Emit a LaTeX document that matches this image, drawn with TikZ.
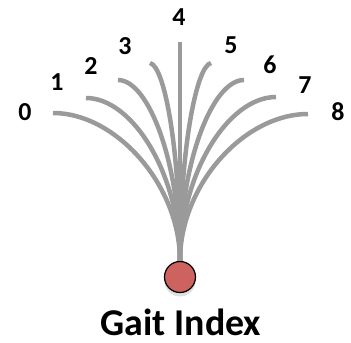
\documentclass[tikz,border=0pt]{standalone}
\usepackage{fontspec}
\setmainfont{Carlito}
\usetikzlibrary{shadows}
\definecolor{stemgray}{RGB}{154,154,154}
\definecolor{rootred}{RGB}{205,98,94}

\begin{document}
\begin{tikzpicture}[x=1bp,y=-1bp,
  digit/.style={font=\fontsize{26}{26}\selectfont\bfseries,inner sep=0pt},
  branch/.style={stemgray,line width=4.5bp}]
  \useasboundingbox (0,0) rectangle (351,343);
  \node[circle,draw=black,line width=1.2bp,fill=rootred,minimum size=31bp,inner sep=0pt,
    drop shadow={shadow xshift=0bp,shadow yshift=-4bp,opacity=0.25}] (r) at (180,277) {};
  \node[anchor=base,inner sep=0pt] (t) at (181,335) {\fontsize{38}{38}\selectfont\bfseries Gait Index};
  \coordinate (e0) at (53,113);
  \coordinate (e1) at (86,98);
  \coordinate (e2) at (118,80);
  \coordinate (e3) at (150,63);
  \coordinate (e4) at (180,42);
  \coordinate (e5) at (211,63);
  \coordinate (e6) at (244,80);
  \coordinate (e7) at (276,97);
  \coordinate (e8) at (308,114);
  \node[digit] (d0) at (25,112) {0};
  \node[digit] (d1) at (57,82)  {1};
  \node[digit] (d2) at (91,66)  {2};
  \node[digit] (d3) at (125,46) {3};
  \node[digit] (d4) at (179,17) {4};
  \node[digit] (d5) at (231,45) {5};
  \node[digit] (d6) at (270,65) {6};
  \node[digit] (d7) at (305,85) {7};
  \node[digit] (d8) at (338,112) {8};
  \draw[branch] (r.north) .. controls (180,185) and (116,113) .. (e0);
  \draw[branch] (r.north) .. controls (180,175) and (133,98) .. (e1);
  \draw[branch] (r.north) .. controls (180,164) and (149,80) .. (e2);
  \draw[branch] (r.north) .. controls (180,152) and (165,66) .. (e3);
  \draw[branch] (r.north) -- (e4);
  \draw[branch] (r.north) .. controls (180,152) and (196,66) .. (e5);
  \draw[branch] (r.north) .. controls (180,164) and (212,80) .. (e6);
  \draw[branch] (r.north) .. controls (180,174) and (228,97) .. (e7);
  \draw[branch] (r.north) .. controls (180,185) and (244,114) .. (e8);
\end{tikzpicture}
\end{document}
